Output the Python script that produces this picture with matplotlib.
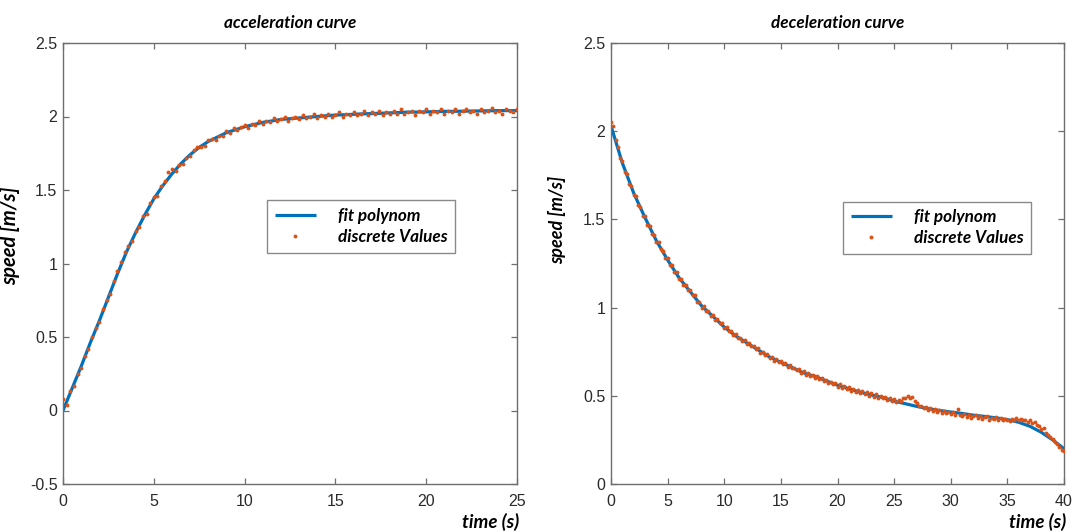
import numpy as np
import matplotlib
matplotlib.use("Agg")
import matplotlib.pyplot as plt

# ---------------- data ----------------
TITLES = ["acceleration curve", "deceleration curve"]
YLABEL = "speed [m/s]"
XLABEL = "time (s)"
LEGEND_LABELS = ["fit polynom", "discrete Values"]

# acceleration: fit polynom sampled every 0.5 s (0 .. 25 s)
acc_fit_t = [0.0, 0.5, 1.0, 1.5, 2.0, 2.5, 3.0, 3.5, 4.0, 4.5, 5.0, 5.5, 6.0, 6.5, 7.0,
             7.5, 8.0, 8.5, 9.0, 9.5, 10.0, 10.5, 11.0, 11.5, 12.0, 12.5, 13.0, 13.5,
             14.0, 14.5, 15.0, 15.5, 16.0, 16.5, 17.0, 17.5, 18.0, 18.5, 19.0, 19.5,
             20.0, 20.5, 21.0, 21.5, 22.0, 22.5, 23.0, 23.5, 24.0, 24.5, 25.0]
acc_fit_v = [0.00, 0.15, 0.30, 0.46, 0.61, 0.77, 0.93, 1.08, 1.21, 1.33, 1.44, 1.53, 1.61,
             1.68, 1.74, 1.79, 1.83, 1.86, 1.89, 1.91, 1.93, 1.945, 1.96, 1.97, 1.98,
             1.985, 1.99, 1.995, 2.00, 2.005, 2.01, 2.012, 2.015, 2.018, 2.02, 2.022,
             2.025, 2.027, 2.03, 2.03, 2.032, 2.033, 2.035, 2.035, 2.036, 2.037, 2.038,
             2.039, 2.04, 2.04, 2.04]

# acceleration: discrete values every 0.2 s (rows = one second)
acc_step = 0.2
acc_disc_v = [
    0.08, 0.04, 0.13, 0.17, 0.25,
    0.29, 0.37, 0.42, 0.50, 0.56,
    0.60, 0.69, 0.75, 0.79, 0.88,
    0.95, 1.01, 1.08, 1.12, 1.15,
    1.22, 1.25, 1.32, 1.34, 1.41,
    1.45, 1.46, 1.53, 1.56, 1.62,
    1.64, 1.63, 1.67, 1.68, 1.72,
    1.73, 1.77, 1.79, 1.79, 1.80,
    1.84, 1.85, 1.84, 1.87, 1.87,
    1.90, 1.89, 1.92, 1.91, 1.93,
    1.94, 1.92, 1.95, 1.94, 1.97,
    1.95, 1.97, 1.96, 1.99, 1.97,
    1.98, 2.00, 1.97, 1.99, 2.00,
    1.98, 2.01, 1.99, 2.00, 2.02,
    1.99, 2.01, 2.00, 2.02, 2.00,
    2.01, 2.03, 2.00, 2.02, 2.01,
    2.03, 2.01, 2.02, 2.04, 2.01,
    2.03, 2.02, 2.04, 2.01, 2.03,
    2.02, 2.04, 2.02, 2.05, 2.02,
    2.03, 2.04, 2.01, 2.04, 2.03,
    2.05, 2.02, 2.04, 2.03, 2.05,
    2.02, 2.04, 2.03, 2.05, 2.02,
    2.04, 2.05, 2.03, 2.04, 2.02,
    2.05, 2.03, 2.04, 2.06, 2.03,
    2.04, 2.02, 2.05, 2.04, 2.03,
    2.05,
]

# deceleration: fit polynom sampled every 1 s (0 .. 40 s)
dec_fit_t = list(range(0, 41))
dec_fit_v = [2.03, 1.82, 1.65, 1.51, 1.38, 1.27, 1.17, 1.09, 1.01, 0.95, 0.89, 0.84, 0.80,
             0.76, 0.72, 0.69, 0.66, 0.63, 0.61, 0.585, 0.56, 0.54, 0.52, 0.505, 0.49,
             0.47, 0.455, 0.44, 0.427, 0.417, 0.408, 0.40, 0.39, 0.383, 0.375, 0.365,
             0.35, 0.327, 0.293, 0.25, 0.20]

# deceleration: discrete values every 0.2 s (rows = one second)
dec_step = 0.2
dec_disc_v = [
    2.05, 2.03, 1.95, 1.91, 1.85,
    1.83, 1.77, 1.76, 1.70, 1.69,
    1.64, 1.63, 1.58, 1.57, 1.52,
    1.52, 1.47, 1.46, 1.42, 1.41,
    1.37, 1.37, 1.33, 1.32, 1.28,
    1.28, 1.24, 1.24, 1.20, 1.20,
    1.16, 1.16, 1.13, 1.13, 1.10,
    1.10, 1.07, 1.07, 1.03, 1.03,
    1.00, 1.01, 0.98, 0.98, 0.955,
    0.96, 0.93, 0.935, 0.91, 0.91,
    0.885, 0.89, 0.865, 0.87, 0.845,
    0.85, 0.825, 0.83, 0.81, 0.815,
    0.795, 0.80, 0.78, 0.785, 0.765,
    0.77, 0.745, 0.75, 0.73, 0.735,
    0.715, 0.72, 0.70, 0.71, 0.69,
    0.70, 0.68, 0.685, 0.665, 0.675,
    0.655, 0.66, 0.645, 0.65, 0.63,
    0.64, 0.62, 0.63, 0.61, 0.62,
    0.60, 0.61, 0.595, 0.60, 0.585,
    0.59, 0.575, 0.58, 0.565, 0.57,
    0.55, 0.565, 0.545, 0.555, 0.54,
    0.55, 0.53, 0.54, 0.52, 0.535,
    0.515, 0.525, 0.51, 0.52, 0.50,
    0.515, 0.495, 0.51, 0.49, 0.50,
    0.485, 0.495, 0.475, 0.49, 0.47,
    0.48, 0.465, 0.475, 0.47, 0.485,
    0.49, 0.50, 0.485, 0.495, 0.47,
    0.46, 0.445, 0.44, 0.43, 0.435,
    0.42, 0.43, 0.415, 0.425, 0.41,
    0.42, 0.405, 0.415, 0.40, 0.41,
    0.395, 0.41, 0.39, 0.425, 0.39,
    0.385, 0.395, 0.38, 0.39, 0.375,
    0.385, 0.39, 0.375, 0.385, 0.37,
    0.38, 0.385, 0.36, 0.375, 0.37,
    0.38, 0.365, 0.375, 0.36, 0.37,
    0.365, 0.355, 0.37, 0.36, 0.375,
    0.365, 0.37, 0.36, 0.365, 0.35,
    0.36, 0.345, 0.35, 0.335, 0.33,
    0.31, 0.32, 0.29, 0.28, 0.265,
    0.255, 0.24, 0.225, 0.21, 0.19,
    0.185,
]

acc_xticks = [0, 5, 10, 15, 20, 25]
acc_yticks = [-0.5, 0, 0.5, 1, 1.5, 2, 2.5]
acc_yticklabels = ["-0.5", "0", "0.5", "1", "1.5", "2", "2.5"]
dec_xticks = [0, 5, 10, 15, 20, 25, 30, 35, 40]
dec_yticks = [0, 0.5, 1, 1.5, 2, 2.5]
dec_yticklabels = ["0", "0.5", "1", "1.5", "2", "2.5"]

# ---------------- style ----------------
BLUE = "#0072BD"
ORANGE = "#D95319"
AX_COL = "#6e6e6e"
TXT_COL = "#2a2a2a"
LABEL_FONT = dict(family=["Lato", "DejaVu Sans"], weight="bold", style="italic")

plt.rcParams["font.family"] = ["Liberation Sans", "DejaVu Sans"]

fig = plt.figure(figsize=(10.72, 5.32), dpi=100)
W, H = 1072, 532

def make_axes(px_left, px_right, px_top, px_bottom):
    return fig.add_axes([px_left / W, (H - px_bottom) / H,
                         (px_right - px_left) / W, (px_bottom - px_top) / H])

ax1 = make_axes(63, 517, 43, 484)
ax2 = make_axes(611, 1064, 43, 484)

acc_disc_t = np.arange(len(acc_disc_v)) * acc_step
dec_disc_t = np.arange(len(dec_disc_v)) * dec_step

panels = [
    (ax1, acc_fit_t, acc_fit_v, acc_disc_t, acc_disc_v, (0, 25), (-0.5, 2.5),
     acc_xticks, acc_yticks, acc_yticklabels, TITLES[0], (0.449, 0.524), 0.562,
     -0.095, 14.5),
    (ax2, dec_fit_t, dec_fit_v, dec_disc_t, dec_disc_v, (0, 40), (0, 2.5),
     dec_xticks, dec_yticks, dec_yticklabels, TITLES[1], (0.512, 0.5215), 0.60,
     -0.099, 13.0),
]

for (ax, ft, fv, dt, dv, xl, yl, xt, yt, ytl, title, legpos, ylab_y,
     ylab_x, ylab_size) in panels:
    ln, = ax.plot(ft, fv, color=BLUE, lw=2.3, label=LEGEND_LABELS[0], zorder=2,
                  solid_capstyle="butt", solid_joinstyle="round")
    pts, = ax.plot(dt, dv, linestyle="none", marker="o", ms=2.8, mew=0,
                   color=ORANGE, label=LEGEND_LABELS[1], zorder=3)
    ax.set_xlim(*xl)
    ax.set_ylim(*yl)
    ax.set_xticks(xt)
    ax.set_xticklabels([str(v) for v in xt])
    ax.set_yticks(yt)
    ax.set_yticklabels(ytl)
    for s in ax.spines.values():
        s.set_color(AX_COL)
        s.set_linewidth(1.0)
    ax.tick_params(axis="both", direction="in", length=4.5, width=0.9,
                   color=AX_COL, labelcolor=TXT_COL, labelsize=11.5,
                   top=True, right=True)
    ax.tick_params(axis="x", pad=7)
    ax.tick_params(axis="y", pad=4)

    ax.set_title(title, fontsize=12.3, color="black", pad=11, **LABEL_FONT)
    ax.set_ylabel(YLABEL, fontsize=ylab_size, color="black", **LABEL_FONT)
    ax.yaxis.set_label_coords(ylab_x, ylab_y)
    ax.text(1.004, -0.086, XLABEL, transform=ax.transAxes, ha="right", va="center",
            fontsize=13.5, color="black", **LABEL_FONT)

    leg = ax.legend(handles=[ln, pts], loc="lower left", bbox_to_anchor=legpos,
                    borderaxespad=0, frameon=True, fancybox=False, framealpha=1,
                    edgecolor="#8a8a8a", handlelength=2.4, handletextpad=1.3,
                    borderpad=0.45, labelspacing=0.3, markerscale=1.0,
                    prop=dict(family=["Lato", "DejaVu Sans"], weight="bold",
                              style="italic", size=12.3))
    leg.get_frame().set_linewidth(1.0)

fig.savefig("out.png", dpi=100, facecolor="white")
